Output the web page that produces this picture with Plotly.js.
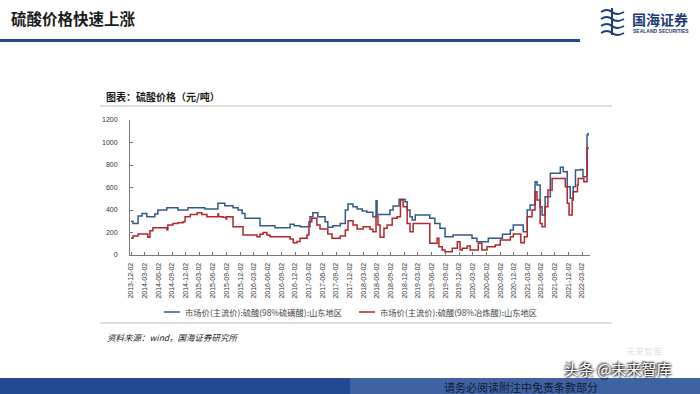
<!DOCTYPE html>
<html>
<head>
<meta charset="utf-8">
<script src="https://cdn.plot.ly/plotly-3.0.1.min.js"></script>
<style>
html,body{margin:0;padding:0;background:#fff;}
#chart{width:700px;height:394px;}
</style>
</head>
<body>
<div id="chart"></div>
<script>
// ---- data ----
const seriesNames = ["市场价(主流价):硫酸(98%硫磺酸):山东地区", "市场价(主流价):硫酸(98%冶炼酸):山东地区"];

const blueDates = ['2013-12-02','2013-12-15','2014-01-18','2014-02-14','2014-03-17','2014-05-10','2014-05-30','2014-07-29','2014-10-11','2014-12-17',
'2015-04-09','2015-07-05','2015-08-20','2015-10-14','2015-11-17','2015-12-14','2016-01-02','2016-04-11','2016-07-20','2016-10-29',
'2016-11-25','2017-01-04','2017-03-11','2017-03-30','2017-05-02','2017-06-20','2017-07-08','2017-08-11','2017-09-29','2017-11-02',
'2017-11-20','2017-12-23','2018-01-20','2018-02-23','2018-03-26','2018-05-05','2018-05-26','2018-06-02','2018-08-27','2018-09-17',
'2018-10-27','2018-12-06','2018-12-20','2019-01-08','2019-01-23','2019-02-12','2019-05-20','2019-06-23','2019-07-27','2019-08-30',
'2019-10-23','2020-02-26','2020-03-30','2020-06-14','2020-09-16','2020-11-08','2020-11-28','2021-02-02','2021-03-01','2021-03-20',
'2021-04-22','2021-05-05','2021-05-26','2021-06-08','2021-06-28','2021-08-02','2021-10-08','2021-10-27','2021-11-23','2021-12-13',
'2022-01-02','2022-01-17','2022-02-20','2022-03-08','2022-04-04','2022-04-11'];
const blueVals = [300,281,347,370,341,364,400,421,400,421,
409,459,438,421,400,370,326,261,243,273,
261,252,341,376,341,296,246,261,281,400,
453,430,409,391,379,341,483,361,400,436,
495,474,400,341,311,356,326,281,237,163,
178,148,118,148,184,222,267,207,400,444,
652,622,430,356,518,726,779,741,607,504,
607,755,760,696,1067,1087];

const redDates = ['2013-12-02','2013-12-15','2014-01-18','2014-03-24','2014-04-07','2014-04-27','2014-07-29','2014-08-05','2014-09-08','2014-10-11',
'2014-11-14','2014-11-28','2015-01-01','2015-02-17','2015-03-20','2015-04-23','2015-07-05','2015-07-10','2015-08-08','2015-08-28',
'2015-09-02','2015-10-14','2015-12-20','2016-03-22','2016-04-11','2016-05-02','2016-05-27','2016-06-17','2016-10-29','2016-11-19',
'2016-12-14','2017-01-04','2017-02-19','2017-03-04','2017-03-23','2017-04-26','2017-05-17','2017-07-08','2017-08-05','2017-09-29',
'2017-11-02','2017-11-20','2017-12-23','2018-01-20','2018-03-01','2018-04-16','2018-05-05','2018-05-26','2018-06-08','2018-06-22',
'2018-07-18','2018-08-08','2018-09-11','2018-10-14','2018-11-05','2018-11-23','2018-12-20','2019-01-08','2019-01-29','2019-05-20',
'2019-07-08','2019-07-20','2019-08-11','2019-08-30','2019-10-17','2019-11-20','2019-12-08','2019-12-23','2020-01-25','2020-02-14',
'2020-04-08','2020-05-02','2020-06-05','2020-07-30','2020-09-02','2020-11-08','2020-11-28','2021-01-17','2021-02-10','2021-03-01',
'2021-04-02','2021-04-22','2021-05-05','2021-05-26','2021-06-08','2021-06-28','2021-07-17','2021-08-14','2021-11-10','2021-11-23',
'2021-12-05','2021-12-26','2022-01-02','2022-01-30','2022-02-04','2022-03-14','2022-04-04','2022-04-11'];
const redVals = [148,169,187,157,216,243,225,267,281,287,
296,341,361,376,361,341,364,341,335,320,
341,252,178,163,184,199,178,163,142,110,
119,148,178,296,326,267,231,187,148,169,
222,305,267,231,252,228,207,347,267,157,
237,267,326,341,489,430,281,207,281,104,
148,74,44,30,59,118,44,59,80,44,
104,44,74,89,133,163,187,110,163,341,
400,563,489,281,252,430,578,681,607,459,
356,489,563,622,681,652,948,957];

const tickDates = ['2013-12-02','2014-03-02','2014-06-02','2014-09-02','2014-12-02','2015-03-02','2015-06-02','2015-09-02','2015-12-02',
'2016-03-02','2016-06-02','2016-09-02','2016-12-02','2017-03-02','2017-06-02','2017-09-02','2017-12-02',
'2018-03-02','2018-06-02','2018-09-02','2018-12-02','2019-03-02','2019-06-02','2019-09-02','2019-12-02',
'2020-03-02','2020-06-02','2020-09-02','2020-12-02','2021-03-02','2021-06-02','2021-09-02','2021-12-02','2022-03-02'];
const yTicks = [0,200,400,600,800,1000,1200];

// ---- styling / layout ----
const BLUE = '#33598a', RED = '#b3262a';
const CJK = '"Noto Sans CJK SC", "Noto Sans", sans-serif';
const L = 130, R = 590, T = 120, B = 255;
const px = x => (x - L) / (R - L);
const py = y => (B - y) / (B - T);

const traces = [
  {x: blueDates, y: blueVals, type: 'scatter', mode: 'lines', name: seriesNames[0],
   line: {color: BLUE, width: 1.5, shape: 'hv'}, showlegend: false},
  {x: redDates, y: redVals, type: 'scatter', mode: 'lines', name: seriesNames[1],
   line: {color: RED, width: 1.5, shape: 'hv'}, showlegend: false}
];

const ann = (x, y, text, o) => Object.assign({xref: 'paper', yref: 'paper', x: px(x), y: py(y), text: text,
  showarrow: false, xanchor: 'left', yanchor: 'middle'}, o || {});

const annotations = [
  ann(9, 18, '<b>硫酸价格快速上涨</b>', {font: {family: CJK, size: 15.5, color: '#1a1a1a'}}),
  ann(630, 19, '<b>国海证券</b>', {font: {family: CJK, size: 14, color: '#1f3c78'}}),
  ann(631, 31, '<b>SEALAND SECURITIES</b>', {font: {family: 'Liberation Sans, Arial', size: 5, color: '#1f3c78'}}),
  ann(104, 96, '<b>图表：硫酸价格（元/吨）</b>', {font: {family: CJK, size: 10, color: '#1a1a1a'}}),
  ann(183, 312, seriesNames[0], {font: {family: CJK, size: 8.3, color: '#444'}}),
  ann(378, 312, seriesNames[1], {font: {family: CJK, size: 8.3, color: '#444'}}),
  ann(105, 337, '<i>资料来源：wind，国海证券研究所</i>', {font: {family: CJK, size: 8.5, color: '#222'}}),
  ann(521, 387, '请务必阅读附注中免责条款部分', {xanchor: 'center', font: {family: CJK, size: 11, color: '#141a33'}}),
  ann(624, 351, '未来智库', {font: {family: CJK, size: 9, color: 'rgba(205,205,205,0.6)'}}),
  ann(562, 368, '头条 @未来智库', {font: {family: CJK, size: 15, color: '#ffffff', shadow: '1px 1px 2px #000, -1px -1px 2px #000'}})
];

const shapes = [
  // title rule
  {type: 'rect', xref: 'paper', yref: 'paper', x0: px(0), x1: px(580), y0: py(42), y1: py(39), fillcolor: '#20498f', line: {width: 0}, layer: 'below'},
  // chart header rule
  {type: 'line', xref: 'paper', yref: 'paper', x0: px(100), x1: px(612), y0: py(106), y1: py(106), line: {color: '#bdbdbd', width: 1}},
  // separator above source
  {type: 'line', xref: 'paper', yref: 'paper', x0: px(100), x1: px(612), y0: py(323), y1: py(323), line: {color: '#bdbdbd', width: 1}},
  // legend samples
  {type: 'line', xref: 'paper', yref: 'paper', x0: px(164), x1: px(180), y0: py(312), y1: py(312), line: {color: BLUE, width: 1.5}},
  {type: 'line', xref: 'paper', yref: 'paper', x0: px(359), x1: px(375), y0: py(312), y1: py(312), line: {color: RED, width: 1.5}},
  // footer bar
  {type: 'rect', xref: 'paper', yref: 'paper', x0: px(0), x1: px(350), y0: py(394), y1: py(378), fillcolor: '#224a92', line: {width: 0}, layer: 'below'},
  {type: 'rect', xref: 'paper', yref: 'paper', x0: px(350), x1: px(700), y0: py(394), y1: py(378), fillcolor: '#3f62a3', line: {width: 0}, layer: 'below'},
  // logo emblem
  {type: 'path', xref: 'paper', yref: 'paper', layer: 'above', line: {color: '#1f3c78', width: 2},
   path: 'M' + px(601) + ',' + py(12) + ' Q' + px(607) + ',' + py(8) + ' ' + px(612) + ',' + py(12) + ' T' + px(624) + ',' + py(12)},
  {type: 'path', xref: 'paper', yref: 'paper', layer: 'above', line: {color: '#1f3c78', width: 2},
   path: 'M' + px(601) + ',' + py(19) + ' Q' + px(607) + ',' + py(15) + ' ' + px(612) + ',' + py(19) + ' T' + px(624) + ',' + py(19)},
  {type: 'path', xref: 'paper', yref: 'paper', layer: 'above', line: {color: '#1f3c78', width: 2},
   path: 'M' + px(601) + ',' + py(26) + ' Q' + px(607) + ',' + py(22) + ' ' + px(612) + ',' + py(26) + ' T' + px(624) + ',' + py(26)},
  {type: 'path', xref: 'paper', yref: 'paper', layer: 'above', line: {color: '#1f3c78', width: 2},
   path: 'M' + px(601) + ',' + py(33) + ' Q' + px(607) + ',' + py(29) + ' ' + px(612) + ',' + py(33) + ' T' + px(624) + ',' + py(33)},
  {type: 'line', xref: 'paper', yref: 'paper', x0: px(612), x1: px(612), y0: py(8), y1: py(35), line: {color: '#1f3c78', width: 2}}
];

const layout = {
  width: 700, height: 394,
  margin: {l: L, r: 700 - R, t: T, b: 394 - B, pad: 0},
  paper_bgcolor: '#ffffff', plot_bgcolor: '#ffffff',
  showlegend: false,
  xaxis: {
    type: 'date', range: ['2013-11-25', '2022-04-24'],
    tickmode: 'array', tickvals: tickDates, ticktext: tickDates,
    tickangle: -90, tickfont: {family: 'Liberation Sans, Arial', size: 7, color: '#333'},
    showgrid: false, zeroline: false, showline: true, linecolor: '#777', linewidth: 1,
    ticks: 'inside', ticklen: 3, tickcolor: '#777', ticklabelstandoff: 4
  },
  yaxis: {
    range: [0, 1200], tickmode: 'array', tickvals: yTicks, ticktext: yTicks.map(String),
    tickfont: {family: 'Liberation Sans, Arial', size: 7, color: '#333'},
    showgrid: false, zeroline: false, showline: true, linecolor: '#777', linewidth: 1,
    ticks: 'inside', ticklen: 3, tickcolor: '#777', ticklabelstandoff: 10
  },
  annotations: annotations,
  shapes: shapes
};

Plotly.newPlot('chart', traces, layout, {displayModeBar: false, staticPlot: true});
</script>
</body>
</html>
